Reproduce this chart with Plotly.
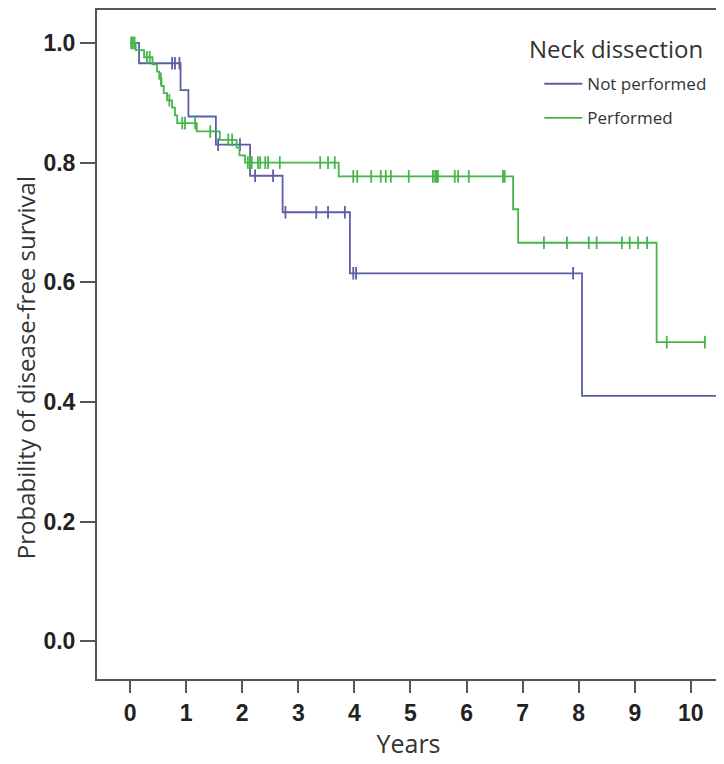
import plotly.graph_objects as go
import numpy as np

# ---- Data ----
# Not performed: step times and survival after each step
np_times = [0.0, 0.16, 0.90, 1.04, 1.53, 2.14, 2.72, 3.92, 8.06, 10.6]
np_surv  = [1.0, 0.966, 0.921, 0.877, 0.830, 0.778, 0.717, 0.615, 0.410, 0.410]
np_censor = [0.75, 0.80, 0.88, 1.57, 1.96, 2.23, 2.55, 2.77, 3.32, 3.53, 3.83, 3.98, 4.03, 7.90]

# Performed
p_times = [0.0, 0.10, 0.25, 0.40, 0.48, 0.52, 0.56, 0.60, 0.66, 0.75, 0.80, 0.84,
           1.19, 1.60, 1.90, 1.95, 2.05, 3.72, 6.83, 6.92, 9.39, 10.27]
p_surv  = [1.0, 0.988, 0.976, 0.964, 0.952, 0.940, 0.928, 0.916, 0.904, 0.892, 0.879, 0.866,
           0.852, 0.838, 0.825, 0.812, 0.800, 0.777, 0.722, 0.666, 0.500, 0.500]
p_censor = [0.02, 0.05, 0.08, 0.30, 0.35, 0.55, 0.70, 0.93, 0.98, 1.16, 1.43, 1.75, 1.82,
            2.10, 2.14, 2.17, 2.28, 2.32, 2.41, 2.46, 2.67, 3.39, 3.53, 3.65,
            3.98, 4.05, 4.30, 4.47, 4.56, 4.65, 4.97, 5.40, 5.44, 5.47, 5.49, 5.79, 5.85,
            6.04, 6.65, 6.68, 7.38, 7.79, 8.18, 8.32, 8.77, 8.91, 9.06, 9.22, 9.57, 10.25]

group_names = ["Not performed", "Performed"]
legend_title = "Neck dissection"
x_title = "Years"
y_title = "Probability of disease-free survival"
x_ticks = list(range(0, 11))
y_ticks = [0.0, 0.2, 0.4, 0.6, 0.8, 1.0]

BLUE = "#5b5fa7"
GREEN = "#45b64a"


def step_value(times, surv, t):
    idx = np.searchsorted(np.array(times), t, side="right") - 1
    return surv[max(idx, 0)]


fig = go.Figure()
series = [
    (group_names[0], np_times, np_surv, np_censor, BLUE, "g1"),
    (group_names[1], p_times, p_surv, p_censor, GREEN, "g2"),
]
for name, t, s, c, col, grp in series:
    fig.add_trace(go.Scatter(
        x=t, y=s, mode="lines", name=name, legendgroup=grp,
        line=dict(color=col, width=1.8, shape="hv"),
    ))
    fig.add_trace(go.Scatter(
        x=c, y=[step_value(t, s, v) for v in c], mode="markers",
        legendgroup=grp, showlegend=False,
        marker=dict(symbol="line-ns", size=9, line=dict(color=col, width=1.8)),
    ))

fig.add_annotation(
    text=legend_title, xref="paper", yref="paper", x=0.69, y=0.943,
    xanchor="left", yanchor="middle", showarrow=False,
    font=dict(family="Open Sans, sans-serif", size=24, color="#333"),
)
fig.add_annotation(
    text=y_title, xref="paper", yref="paper", x=-0.1156, y=0.466,
    xanchor="center", yanchor="middle", showarrow=False, textangle=-90,
    font=dict(family="Open Sans, sans-serif", size=24, color="#333"),
)

fig.update_layout(
    width=716, height=756,
    margin=dict(l=89, r=4, t=0, b=85),
    paper_bgcolor="white", plot_bgcolor="white",
    font=dict(family="Liberation Sans, Arial, sans-serif", color="#222"),
    legend=dict(
        x=0.71, y=0.916, xanchor="left", yanchor="top",
        font=dict(family="Open Sans, sans-serif", size=17, color="#333"),
        bgcolor="rgba(0,0,0,0)", tracegroupgap=9, itemwidth=38,
    ),
    xaxis=dict(
        range=[-0.59, 10.52], tickvals=x_ticks, ticktext=[str(v) for v in x_ticks],
        ticks="outside", ticklen=12, tickwidth=2, tickcolor="#555",
        showline=True, linecolor="#555", linewidth=2, mirror=True,
        showgrid=False, zeroline=False,
        tickfont=dict(family="Liberation Sans, Arial, sans-serif", size=23, color="#222", weight="bold"),
        title=dict(text=x_title, font=dict(family="Open Sans, sans-serif", size=25, color="#333"), standoff=3),
    ),
    yaxis=dict(
        range=[-0.063, 1.055], tickvals=y_ticks, ticktext=[f"{v:.1f}" for v in y_ticks],
        ticks="outside", ticklen=15, tickwidth=2, tickcolor="#555",
        showline=True, linecolor="#555", linewidth=2, mirror=True,
        showgrid=False, zeroline=False,
        tickfont=dict(family="Liberation Sans, Arial, sans-serif", size=23, color="#222", weight="bold"),
    ),
)

fig.write_html("out.html")
